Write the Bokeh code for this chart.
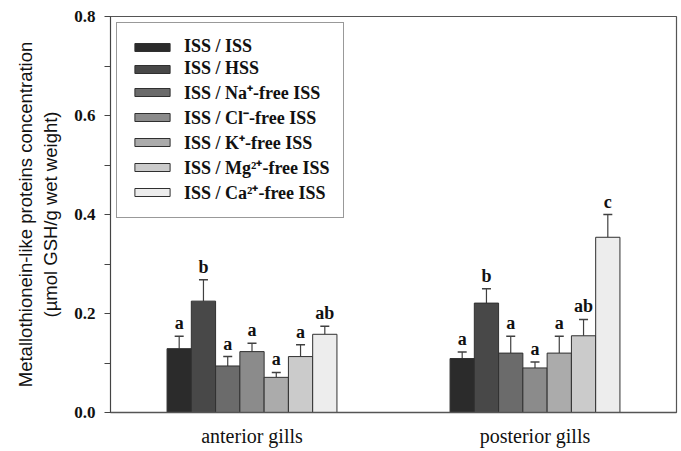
from bokeh.plotting import figure
from bokeh.models import Range1d, FixedTicker, Whisker, ColumnDataSource, Legend, LegendItem, TeeHead
from bokeh.core.properties import value
from bokeh.embed import file_html
from bokeh.resources import INLINE

groups = ["anterior gills", "posterior gills"]
treatments = ["ISS / ISS", "ISS / HSS", "ISS / Na\u207a-free ISS", "ISS / Cl\u207b-free ISS",
              "ISS / K\u207a-free ISS", "ISS / Mg\u00b2\u207a-free ISS", "ISS / Ca\u00b2\u207a-free ISS"]
colors = ["#2b2b2b", "#484848", "#6b6b6b", "#8b8b8b", "#ababab", "#cbcbcb", "#ededed"]

# means[treatment] = [anterior, posterior]
means = [[0.129, 0.109], [0.225, 0.221], [0.094, 0.120], [0.123, 0.090],
         [0.071, 0.120], [0.113, 0.155], [0.158, 0.354]]
errors = [[0.025, 0.013], [0.043, 0.029], [0.019, 0.034], [0.017, 0.012],
          [0.010, 0.034], [0.024, 0.033], [0.016, 0.046]]
letters = [["a", "a"], ["b", "b"], ["a", "a"], ["a", "a"],
           ["a", "a"], ["a", "ab"], ["ab", "c"]]

yticks = [0.0, 0.2, 0.4, 0.6, 0.8]
ytick_labels = ["0.0", "0.2", "0.4", "0.6", "0.8"]

n = len(treatments)
gap = 4.66
side = 2.33
centers = [g * (n + gap) for g in range(len(groups))]

p = figure(width=681, height=451, output_backend="svg", toolbar_location=None,
           x_range=Range1d(centers[0] - n / 2 - side, centers[-1] + n / 2 + side),
           y_range=Range1d(0, 0.8),
           min_border_left=110, min_border_right=5, min_border_top=16, min_border_bottom=39)
p.grid.visible = False
p.outline_line_color = "#555555"
p.outline_line_width = 1.2

FONT_SERIF = "Liberation Serif"
items = []
for i, t in enumerate(treatments):
    xs = [c + (i - (n - 1) / 2) for c in centers]
    top = means[i]
    up = [m + e for m, e in zip(means[i], errors[i])]
    src = ColumnDataSource(dict(x=xs, top=top, up=up, lab=letters[i]))
    r = p.vbar(x="x", top="top", width=1.0, bottom=0, source=src,
               fill_color=colors[i], line_color="#303030", line_width=1)
    w = Whisker(base="x", lower="top", upper="up", source=src, dimension="height",
                line_color="#404040", line_width=1.2,
                upper_head=TeeHead(size=9, line_color="#404040", line_width=1.5),
                lower_head=None)
    p.add_layout(w)
    p.text(x="x", y="up", text="lab", source=src, text_align="center", text_baseline="bottom",
           y_offset=-3, text_font=value(FONT_SERIF), text_font_style="bold",
           text_font_size="18px", text_color="#111111")
    items.append(LegendItem(label=t, renderers=[r]))

legend = Legend(items=items, location="top_left",
                label_text_font=FONT_SERIF, label_text_font_style="bold",
                label_text_font_size="18px", label_text_color="#111111",
                glyph_width=44, glyph_height=10, label_height=20, spacing=1,
                label_standoff=10, padding=13, margin=6,
                border_line_color="#333333", border_line_width=1,
                background_fill_alpha=1.0)
p.add_layout(legend)

# y axis
p.yaxis.ticker = FixedTicker(ticks=yticks, minor_ticks=[0.1, 0.3, 0.5, 0.7])
p.yaxis.major_label_overrides = {t: l for t, l in zip(yticks, ytick_labels)}
p.yaxis.major_label_text_font = FONT_SERIF
p.yaxis.major_label_text_font_style = "bold"
p.yaxis.major_label_text_font_size = "17px"
p.yaxis.major_label_text_color = "#111111"
p.yaxis.major_tick_in = 0
p.yaxis.major_tick_out = 6
p.yaxis.minor_tick_in = 0
p.yaxis.minor_tick_out = 6
p.yaxis.axis_line_color = "#444444"
p.yaxis.major_tick_line_color = "#444444"
p.yaxis.minor_tick_line_color = "#444444"
p.yaxis.major_label_standoff = 9
p.yaxis.axis_label = "Metallothionein-like proteins concentration\n(\u00b5mol GSH/g wet weight)"
p.yaxis.axis_label_text_font = "Liberation Sans"
p.yaxis.axis_label_text_font_style = "normal"
p.yaxis.axis_label_text_font_size = "18.5px"
p.yaxis.axis_label_text_color = "#111111"
p.yaxis.axis_label_standoff = 10

# x axis
p.xaxis.ticker = FixedTicker(ticks=centers)
p.xaxis.major_label_overrides = {c: g for c, g in zip(centers, groups)}
p.xaxis.major_label_text_font = FONT_SERIF
p.xaxis.major_label_text_font_size = "20px"
p.xaxis.major_label_text_color = "#111111"
p.xaxis.major_tick_line_color = None
p.xaxis.minor_tick_line_color = None
p.xaxis.major_tick_out = 0
p.xaxis.major_tick_in = 0
p.xaxis.axis_line_color = "#555555"
p.xaxis.axis_line_width = 1.5
p.xaxis.major_label_standoff = 12

open("out.html", "w").write(file_html(p, INLINE))
